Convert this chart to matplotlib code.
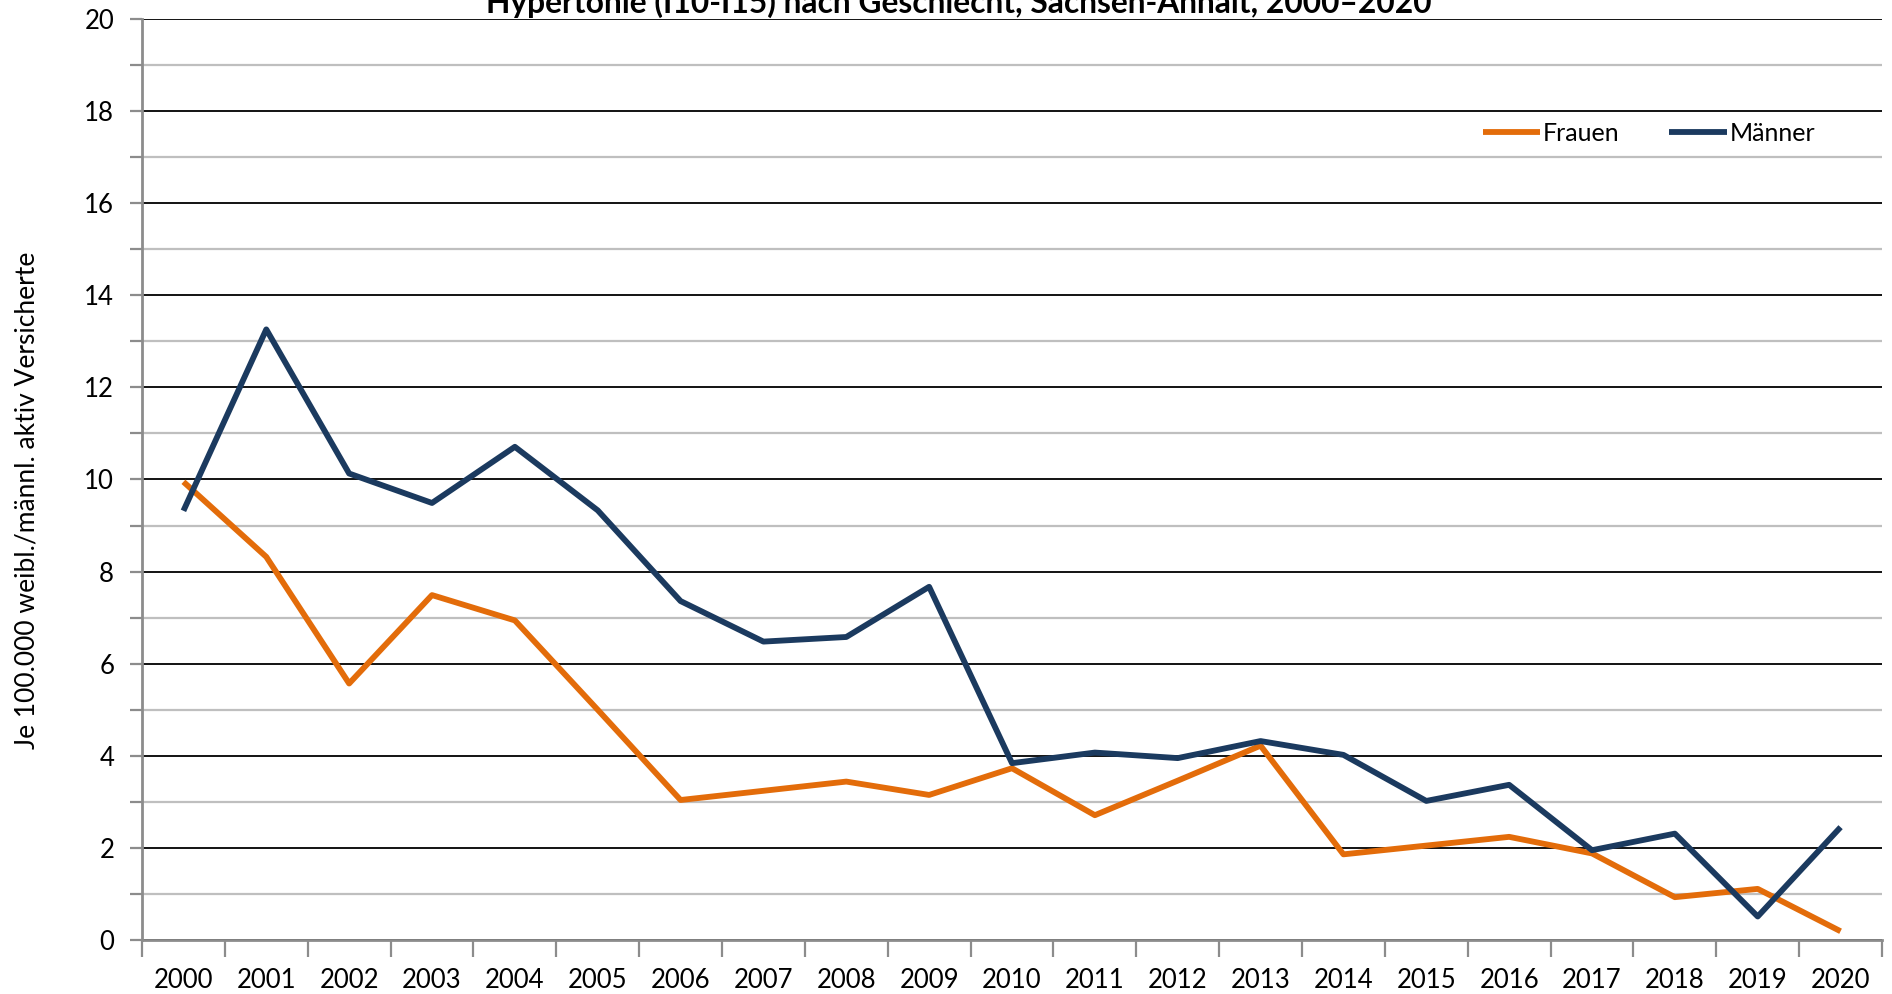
import matplotlib
matplotlib.use("Agg")
import matplotlib.pyplot as plt
from matplotlib.ticker import MultipleLocator, FixedLocator

years = [str(y) for y in range(2000, 2021)]
frauen = [9.95, 8.32, 5.57, 7.49, 6.94, 5.0, 3.04, 3.24, 3.44, 3.15, 3.73,
          2.71, 3.46, 4.22, 1.86, 2.05, 2.24, 1.88, 0.93, 1.11, 0.19]
maenner = [9.32, 13.26, 10.13, 9.49, 10.71, 9.33, 7.36, 6.48, 6.58, 7.67, 3.84,
           4.07, 3.95, 4.32, 4.02, 3.02, 3.37, 1.95, 2.31, 0.51, 2.45]

title = "Hypertonie (I10-I15) nach Geschlecht, Sachsen-Anhalt, 2000\u20132020"
ylabel = "Je 100.000 weibl./männl. aktiv Versicherte"

c_fr = "#E36C0A"
c_ma = "#1B3A5F"
gray = "#8C8C8C"

fig = plt.figure(figsize=(18.92, 9.94), dpi=100)
ax = fig.add_axes([142/1892, 1-940/994, (1882-142)/1892, (940-19)/994])

x = list(range(len(years)))
ax.plot(x, frauen, color=c_fr, lw=4.2, label="Frauen", solid_capstyle="butt", zorder=3)
ax.plot(x, maenner, color=c_ma, lw=4.2, label="Männer", solid_capstyle="butt", zorder=4)

ax.set_xlim(-0.5, len(years) - 0.5)
ax.set_ylim(0, 20)

ax.yaxis.set_major_locator(MultipleLocator(2))
ax.yaxis.set_minor_locator(MultipleLocator(1))
ax.grid(which="minor", axis="y", color="#BFBFBF", lw=1.6, zorder=1)
ax.grid(which="major", axis="y", color="#000000", lw=1.3, zorder=2)

ax.set_xticks(x)
ax.set_xticklabels(years, fontfamily="Lato", fontsize=18.5)
ax.xaxis.set_minor_locator(FixedLocator([i - 0.5 for i in range(len(years) + 1)]))
ax.tick_params(axis="x", which="major", length=0, pad=20)
ax.tick_params(axis="x", which="minor", length=12, width=1.6, color=gray, direction="out")
ax.tick_params(axis="y", which="both", length=9, width=1.6, color=gray, direction="out")
ax.tick_params(axis="y", which="major", labelsize=18.5, pad=11)
for lab in ax.get_yticklabels():
    lab.set_fontfamily("Lato")

for s in ["top", "right"]:
    ax.spines[s].set_visible(False)
for s in ["left", "bottom"]:
    ax.spines[s].set_color(gray)
    ax.spines[s].set_linewidth(2)

ax.set_ylabel(ylabel, fontfamily="Lato", fontsize=19)
ax.yaxis.set_label_coords(-0.059, 0.477)

leg = ax.legend(loc="center", bbox_to_anchor=(0.866, 0.8755), ncol=2, frameon=False,
                prop={"family": "Lato", "size": 18}, handlelength=2.3,
                handletextpad=0.1, columnspacing=2.0)

fig.text(959/1892, 1-13/994, title, ha="center", va="baseline",
         fontfamily="Lato", fontweight="bold", fontsize=22.9)

fig.savefig("out.png", dpi=100)
